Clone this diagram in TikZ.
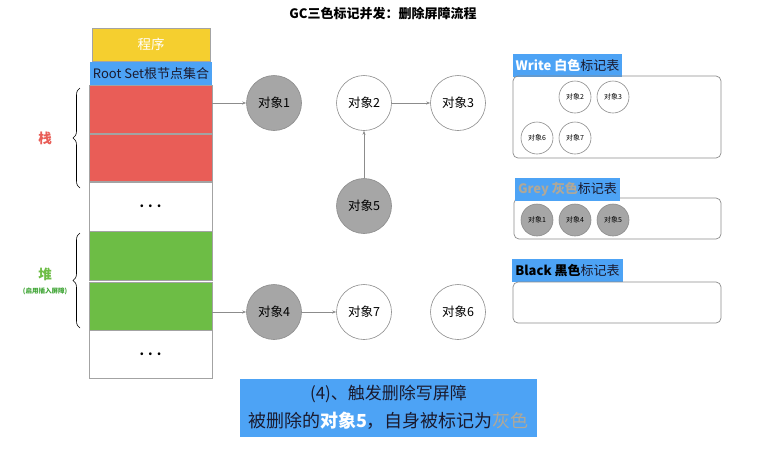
\documentclass[tikz,border=0pt]{standalone}
\usepackage{fontspec}
\setmainfont{Noto Sans CJK SC}
\usetikzlibrary{decorations.pathreplacing,arrows.meta}
\definecolor{cred}{HTML}{E95D57}
\definecolor{cgreen}{HTML}{6DBD45}
\definecolor{cyellow}{HTML}{F5CF2F}
\definecolor{cblue}{HTML}{4DA3F5}
\definecolor{cgray}{HTML}{A6A6A6}
\definecolor{cline}{HTML}{8C8C8C}
\definecolor{cdark}{HTML}{1A1A2E}
\definecolor{cgreytxt}{HTML}{B0A898}
\definecolor{cgreentxt}{HTML}{3FA535}
\begin{document}
\begin{tikzpicture}[x=1pt,y=-1pt,
  cell/.style={draw=cline!80,line width=0.6pt,minimum width=123pt,inner sep=0pt},
  dots/.style={font=\bfseries\fontsize{13}{14}\selectfont},
  obj/.style={circle,draw=cline,line width=0.6pt,minimum size=55pt,inner sep=0pt,font=\fontsize{12.5}{14}\selectfont},
  sobj/.style={circle,draw=cline,line width=0.6pt,minimum size=32pt,inner sep=0pt,font=\fontsize{7}{8}\selectfont},
  conn/.style={draw=cline,line width=0.6pt,-{Stealth[length=4pt,width=3pt]}},
  tbl/.style={draw=cline,line width=0.7pt,rounded corners=5pt},
  lbl/.style={fill=cblue,inner sep=0pt,minimum height=23pt,font=\fontsize{13}{15}\selectfont,text=cdark},
  brc/.style={decorate,decoration={brace,amplitude=7pt,aspect=0.5},line width=0.6pt}
]
\useasboundingbox (0,0) rectangle (766,448);
\fill[white] (0,0) rectangle (766,448);
\node[font=\bfseries\fontsize{13}{15}\selectfont] (title) at (383,14) {GC三色标记并发：删除屏障流程};
% column
\node[cell,fill=cyellow,minimum width=118pt,minimum height=33pt,text=white,font=\fontsize{13.5}{15}\selectfont] (prog) at (151,44.5) {程序};
\node[fill=cblue,minimum width=122pt,minimum height=23pt,inner sep=0pt,text=cdark,font=\fontsize{13}{15}\selectfont] (root) at (151,73.5) {Root Set根节点集合};
\node[cell,fill=cred,minimum height=48pt] (r1) at (150.5,109) {};
\node[cell,fill=cred,minimum height=47pt] (r2) at (150.5,157.5) {};
\node[cell,fill=white,minimum height=49pt,dots] (d1) at (150.5,206.5) {.\hspace{4pt}.\hspace{4pt}.};
\node[cell,fill=cgreen,minimum height=49pt] (g1) at (150.5,255.5) {};
\node[cell,fill=cgreen,minimum height=48pt] (g2) at (150.5,306) {};
\node[cell,fill=white,minimum height=48pt,dots] (d2) at (150.5,354) {.\hspace{4pt}.\hspace{4pt}.};
% braces
\coordinate (b1a) at (80,188);
\coordinate (b1b) at (80,88);
\draw[brc] (b1a) -- (b1b);
\coordinate (b2a) at (80,328);
\coordinate (b2b) at (80,233);
\draw[brc] (b2a) -- (b2b);
\node[text=cred,font=\bfseries\fontsize{13.5}{15}\selectfont] (zhan) at (45,138) {栈};
\node[text=cgreen,font=\bfseries\fontsize{13.5}{15}\selectfont] (dui) at (45,274) {堆};
\node[text=cgreentxt,font=\bfseries\fontsize{6.5}{8}\selectfont] (duisub) at (45,291) {(启用插入屏障)};
% objects
\node[obj,fill=cgray] (o1) at (274,103) {对象1};
\node[obj,fill=white] (o2) at (364,103) {对象2};
\node[obj,fill=white] (o3) at (458,103) {对象3};
\node[obj,fill=cgray] (o5) at (364,206) {对象5};
\node[obj,fill=cgray] (o4) at (274,312) {对象4};
\node[obj,fill=white] (o7) at (364,312) {对象7};
\node[obj,fill=white] (o6) at (458,312) {对象6};
\draw[conn] (r1.east |- o1) -- (o1);
\draw[conn] (g2.east |- o4) -- (o4);
\draw[conn] (o2) -- (o3);
\draw[conn] (o5) -- (o2);
\draw[conn] (o4) -- (o7);
% white table
\node[lbl,minimum width=109pt] (wl) at (567.5,65) {\textcolor{white}{\bfseries Write 白色}标记表};
\draw[tbl] (513,76) rectangle (721,158);
\node[sobj,fill=white] (w2) at (575,97) {对象2};
\node[sobj,fill=white] (w3) at (613,97) {对象3};
\node[sobj,fill=white] (w6) at (537,138) {对象6};
\node[sobj,fill=white] (w7) at (575,138) {对象7};
% grey table
\draw[tbl] (514,198) rectangle (721,239);
\node[lbl,minimum width=105pt] (gl) at (567.5,189.5) {\textcolor{cgreytxt}{\bfseries Grey 灰色}标记表};
\node[sobj,fill=cgray] (s1) at (537,220) {对象1};
\node[sobj,fill=cgray] (s4) at (575,220) {对象4};
\node[sobj,fill=cgray] (s5) at (613,220) {对象5};
% black table
\node[lbl,minimum width=111pt] (bl) at (567.5,270.5) {\textcolor{black}{\bfseries Black 黑色}标记表};
\draw[tbl] (513,282) rectangle (721,323);
% caption
\node[fill=cblue,minimum width=297pt,minimum height=58pt,inner sep=0pt] (cap) at (388.5,408) {};
\node[font=\fontsize{17}{19}\selectfont,text=cdark] (cap1) at (388.5,394) {(4)、触发删除写屏障};
\node[font=\fontsize{18}{20}\selectfont,text=cdark] (cap2) at (388.5,421) {被删除的\textcolor{white}{\bfseries 对象5}，自身被标记为\textcolor{cgreytxt}{灰色}};
\end{tikzpicture}
\end{document}
